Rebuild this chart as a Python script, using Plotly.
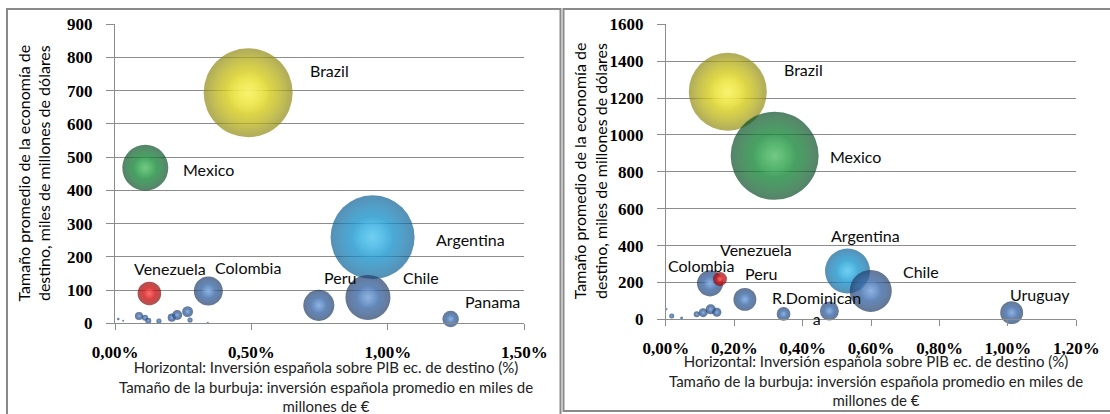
import plotly.graph_objects as go

# ---------------- Panel A ----------------
countries_a = ["Brazil", "Mexico", "Argentina", "Chile", "Peru", "Colombia",
               "Venezuela", "Panama"] + [""] * 11
inv_pib_a = [0.488, 0.111, 0.944, 0.927, 0.747, 0.342, 0.126, 1.230,
             0.012, 0.030, 0.088, 0.110, 0.122, 0.161, 0.208, 0.228, 0.266, 0.275, 0.340]
pib_a = [694, 468, 259, 78, 54, 97, 90, 13,
         13, 8, 22, 17, 8, 7, 17, 25, 35, 10, 2]
inversion_a = [12.0, 3.21, 10.69, 3.07, 1.46, 1.27, 0.84, 0.41,
               0.01, 0.006, 0.1, 0.055, 0.055, 0.04, 0.1, 0.15, 0.18, 0.04, 0.006]
xticks_a = [0.0, 0.5, 1.0, 1.5]
yticks_a = [0, 100, 200, 300, 400, 500, 600, 700, 800, 900]

# ---------------- Panel B ----------------
countries_b = ["Brazil", "Mexico", "Argentina", "Chile", "Colombia", "Venezuela",
               "Peru", "R.Dominicana", "Uruguay"] + [""] * 8
inv_pib_b = [0.181, 0.318, 0.531, 0.599, 0.129, 0.158, 0.231, 0.478, 1.011,
             0.344, 0.002, 0.017, 0.046, 0.090, 0.109, 0.131, 0.149]
pib_b = [1234, 887, 262, 154, 195, 218, 108, 45, 36,
         29, 54, 18, 7, 27, 36, 54, 38]
inversion_b = [5.11, 6.5, 1.70, 1.48, 0.57, 0.165, 0.44, 0.30, 0.44,
               0.158, 0.0034, 0.021, 0.0076, 0.030, 0.068, 0.084, 0.068]
xticks_b = [0.0, 0.2, 0.4, 0.6, 0.8, 1.0, 1.2]
yticks_b = [0, 200, 400, 600, 800, 1000, 1200, 1400, 1600]

y_title = "Tamaño promedio de la economía de<br>destino, miles de millones de dólares"
footer = ("Horizontal: Inversión española sobre PIB ec. de destino (%)<br>"
          "Tamaño de la burbuja: inversión española promedio en miles de<br>"
          "millones de €")

# ---------------- styling ----------------
W, H = 1110, 414
GRID = "#8c8c8c"
LABEL_FONT = dict(family="Lato", size=16, color="#0a0a0a")
TICK_FONT = dict(family="Liberation Serif", size=17, color="#000000", weight="bold")

# body, highlight, rim
PALETTE = {
    "Brazil": ("#eee41a", "#fbf68e", "#8f8912"),
    "Mexico": ("#1fa043", "#8fd69b", "#0b4e27"),
    "Argentina": ("#22a9e2", "#8cdcf6", "#0b6096"),
    "Venezuela": ("#e81818", "#ff9090", "#8a0404"),
}
DEFAULT_COLORS = ("#4679bd", "#a8c6ec", "#1f3b66")

# pixel offsets of each country label from its bubble centre
OFFSETS_A = {"Brazil": (81, 22), "Mexico": (63, -2), "Argentina": (98, -2),
             "Venezuela": (21, 25), "Colombia": (40, 24), "Peru": (21, 28),
             "Chile": (53, 20), "Panama": (42, 17)}
OFFSETS_B = {"Brazil": (76, 22), "Mexico": (81, -1), "Argentina": (18, 35),
             "Venezuela": (36, 30), "Colombia": (-9, 18), "Peru": (16, 26),
             "Chile": (50, 19), "R.Dominicana": (-13, 3), "Uruguay": (28, 18)}


def px_x(p):
    return p / W


def px_y(p):
    return 1 - p / H


def rgba(hex_color, a):
    h = hex_color.lstrip("#")
    r, g, b = int(h[0:2], 16), int(h[2:4], 16), int(h[4:6], 16)
    return f"rgba({r},{g},{b},{a})"


fig = go.Figure()


def sphere_layer(x, y, s, sizeref, scale, centre, edge, xref, yref):
    # radial gradient: gradient.color sits at the centre, marker.color at the rim
    fig.add_trace(go.Scatter(
        x=[x], y=[y], xaxis=xref, yaxis=yref, mode="markers",
        cliponaxis=False, hoverinfo="skip", showlegend=False,
        marker=dict(size=[s], sizemode="area", sizeref=sizeref / scale ** 2,
                    color=edge, line=dict(width=0),
                    gradient=dict(type="radial", color=centre))))


def add_bubbles(names, xs, ys, sizes, max_diam, xref, yref):
    sizeref = 2 * max(sizes) / max_diam ** 2
    for name, x, y, s in zip(names, xs, ys, sizes):
        body, light, rim = PALETTE.get(name, DEFAULT_COLORS)
        sphere_layer(x / 100, y, s, sizeref, 1.0, body, rim, xref, yref)
        sphere_layer(x / 100, y, s, sizeref, 0.92, body, rgba(body, 0), xref, yref)
        sphere_layer(x / 100, y, s, sizeref, 0.5, light, rgba(light, 0), xref, yref)


def add_labels(names, xs, ys, offsets, xref, yref):
    for name, x, y in zip(names, xs, ys):
        if not name:
            continue
        dx, dy = offsets[name]
        text = name if len(name) <= 11 else name[:11] + "<br>" + name[11:]
        fig.add_annotation(x=x / 100, y=y, xref=xref, yref=yref, text=text,
                           showarrow=False, xanchor="center", yanchor="middle",
                           xshift=dx, yshift=dy, font=LABEL_FONT)


add_bubbles(countries_a, inv_pib_a, pib_a, inversion_a, 89, "x", "y")
add_bubbles(countries_b, inv_pib_b, pib_b, inversion_b, 88, "x2", "y2")
add_labels(countries_a, inv_pib_a, pib_a, OFFSETS_A, "x", "y")
add_labels(countries_b, inv_pib_b, pib_b, OFFSETS_B, "x2", "y2")

common_x = dict(showgrid=False, zeroline=False, showline=True, linecolor=GRID,
                linewidth=1, ticks="outside", ticklen=6, tickcolor=GRID,
                tickformat=".2%", tickfont=TICK_FONT, automargin=False,
                ticklabelstandoff=7, fixedrange=True)
common_y = dict(showgrid=True, gridcolor=GRID, gridwidth=1, zeroline=False,
                showline=True, linecolor=GRID, linewidth=1, ticks="outside",
                ticklen=8, tickcolor=GRID, tickfont=TICK_FONT, automargin=False,
                ticklabelstandoff=10, fixedrange=True)

fig.update_layout(
    width=W, height=H, autosize=False,
    margin=dict(l=0, r=0, t=0, b=0, pad=0, autoexpand=False),
    paper_bgcolor="white", plot_bgcolor="white",
    separators=",.",
    xaxis=dict(common_x, domain=[px_x(115), px_x(524.3)], range=[0, 0.015],
               tickvals=[v / 100 for v in xticks_a], anchor="y"),
    yaxis=dict(common_y, domain=[px_y(323.3), px_y(24.3)], range=[0, 900],
               tickvals=yticks_a, anchor="x"),
    xaxis2=dict(common_x, domain=[px_x(665.9), px_x(1076.3)], range=[0, 0.012],
                tickvals=[v / 100 for v in xticks_b], anchor="y2"),
    yaxis2=dict(common_y, domain=[px_y(319.3), px_y(24.3)], range=[0, 1600],
                tickvals=yticks_b, anchor="x2"),
)

# panel frames
frame = dict(type="path", xref="paper", yref="paper",
             line=dict(color="#8a8a8a", width=2))
fig.add_shape(frame, path=f"M {px_x(7)},{px_y(414)} L {px_x(7)},{px_y(9)} "
                          f"L {px_x(560.5)},{px_y(9)} L {px_x(560.5)},{px_y(414)}")
fig.add_shape(frame, path=f"M {px_x(1110)},{px_y(411)} L {px_x(563.5)},{px_y(411)} "
                          f"L {px_x(563.5)},{px_y(9)} L {px_x(1110)},{px_y(9)}")

# axis titles and footnotes
for cx, cy in [(33, 173.5), (590.3, 171)]:
    fig.add_annotation(x=px_x(cx), y=px_y(cy), xref="paper", yref="paper",
                       text=y_title, textangle=-90, showarrow=False,
                       xanchor="center", yanchor="middle",
                       font=dict(family="Lato", size=16, color="#000000"))
for cx, cy in [(326, 386), (876, 380.5)]:
    fig.add_annotation(x=px_x(cx), y=px_y(cy), xref="paper", yref="paper",
                       text=footer, showarrow=False, align="center",
                       xanchor="center", yanchor="middle",
                       font=dict(family="Lato", size=15, color="#222222"))

fig.write_html("out.html")
